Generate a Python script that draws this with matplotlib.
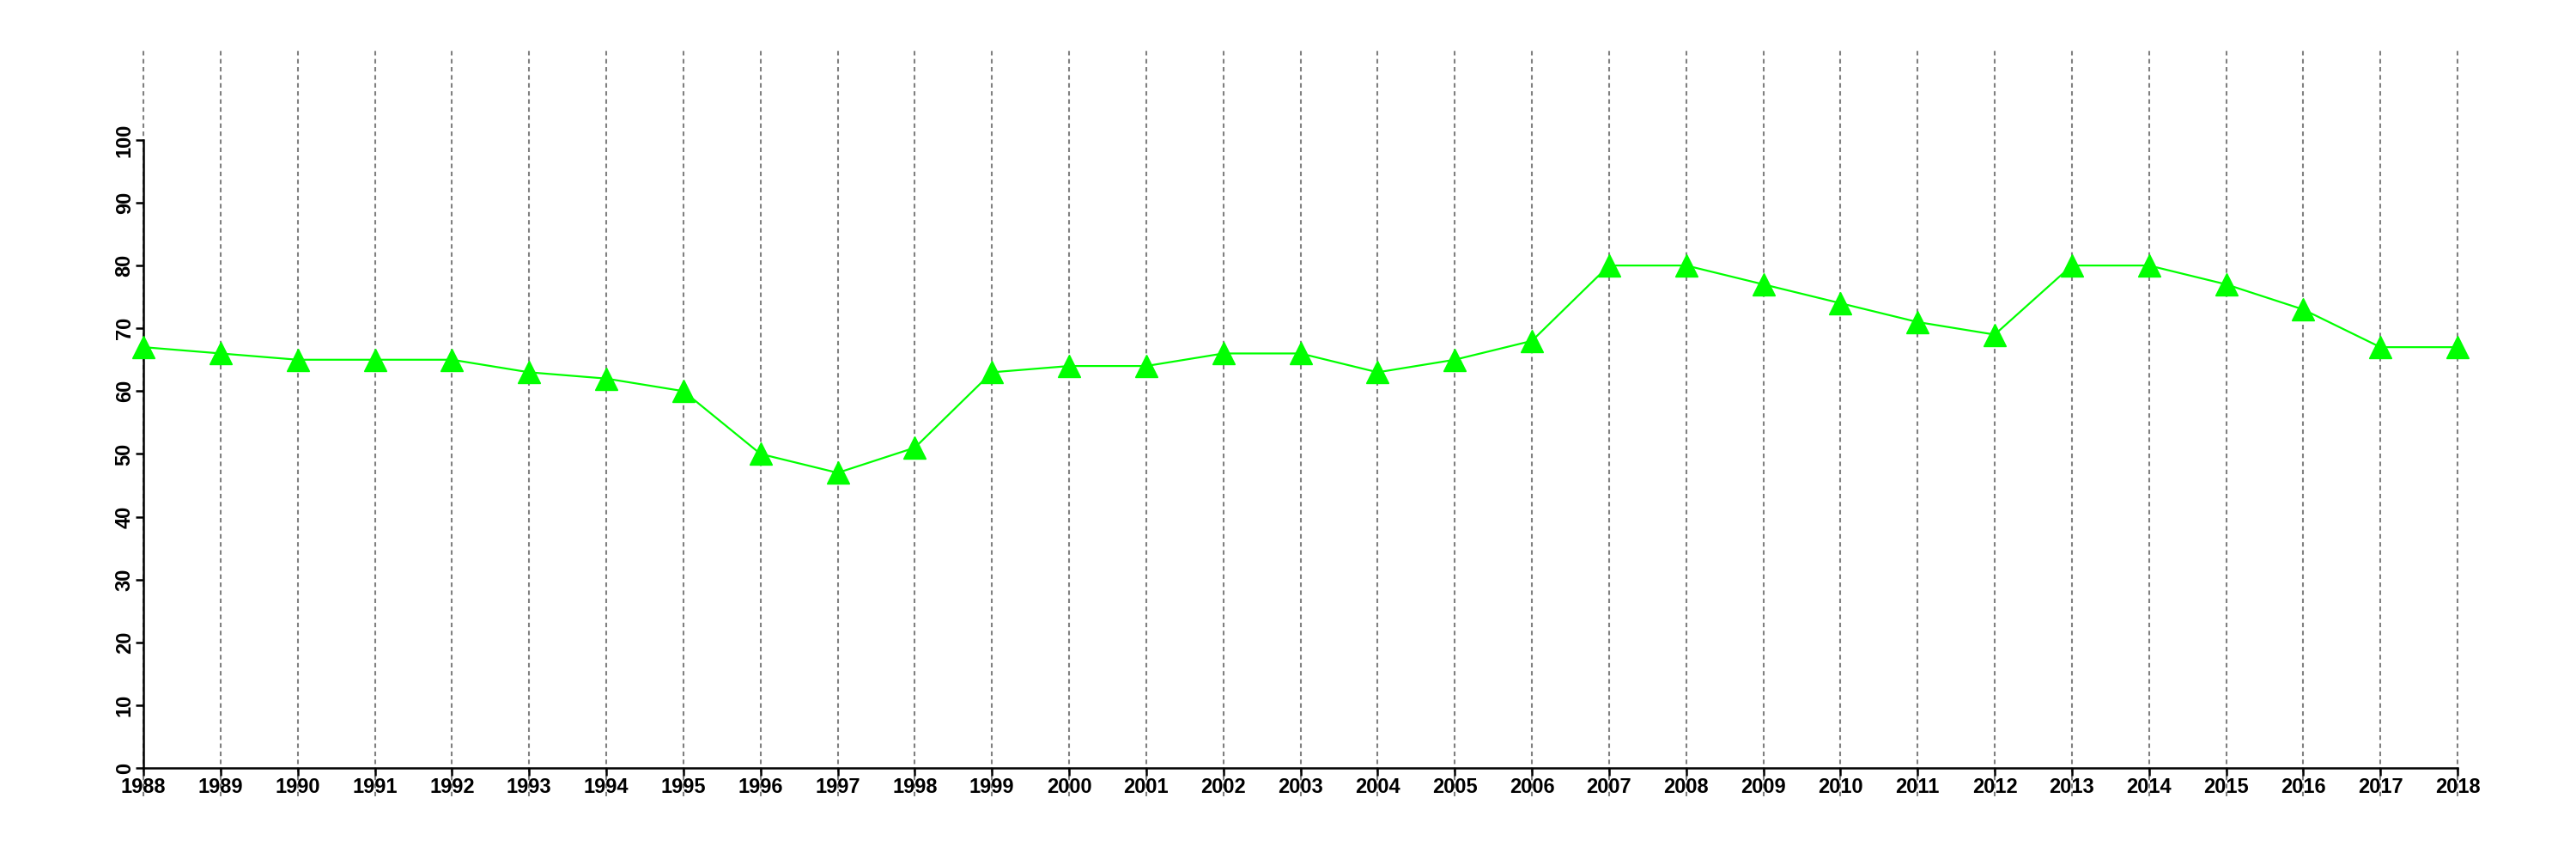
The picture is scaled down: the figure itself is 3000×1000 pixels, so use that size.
import numpy as np
import matplotlib.pyplot as plt

years = list(range(1988, 2019))
values = [67, 66, 65, 65, 65, 63, 62, 60, 50, 47, 51, 63, 64, 64, 66, 66,
          63, 65, 68, 80, 80, 77, 74, 71, 69, 80, 80, 77, 73, 67, 67]
yticks = list(range(0, 101, 10))

plt.rcParams['font.family'] = ['Liberation Sans', 'DejaVu Sans']

fig = plt.figure(figsize=(30, 10), dpi=100)
ax = fig.add_axes([0.0557, 0.073, 0.954 - 0.0557, 0.941 - 0.073])

# dotted vertical grid at each year
ax.vlines(years, -4.5, 114.2, colors='#808080', linestyles=(0, (2.5, 2)),
          linewidth=1.5, zorder=1, clip_on=False)

ax.plot(years, values, color='#00ff00', linewidth=1.6, marker='^',
        markersize=19, markerfacecolor='#00ff00', markeredgecolor='#00ff00',
        clip_on=False, zorder=3)

ax.set_xlim(1988, 2018)
ax.set_ylim(-4.5, 114.2)

for s in ['top', 'right']:
    ax.spines[s].set_visible(False)
ax.spines['left'].set_bounds(0, 100)
ax.spines['left'].set_position(('data', 1988))
ax.spines['bottom'].set_position(('data', 0))
ax.spines['bottom'].set_bounds(1988, 2018)
ax.spines['left'].set_linewidth(1.8)
ax.spines['bottom'].set_linewidth(1.8)

ax.set_xticks(years)
ax.set_xticklabels([str(y) for y in years], fontsize=17, fontweight='bold')
ax.set_yticks(yticks)
ax.set_yticklabels([str(v) for v in yticks], fontsize=17, fontweight='bold',
                   rotation=90, va='center')
ax.tick_params(axis='both', direction='out', length=6.5, width=1.8, pad=1)

fig.savefig('out.png', dpi=100)
